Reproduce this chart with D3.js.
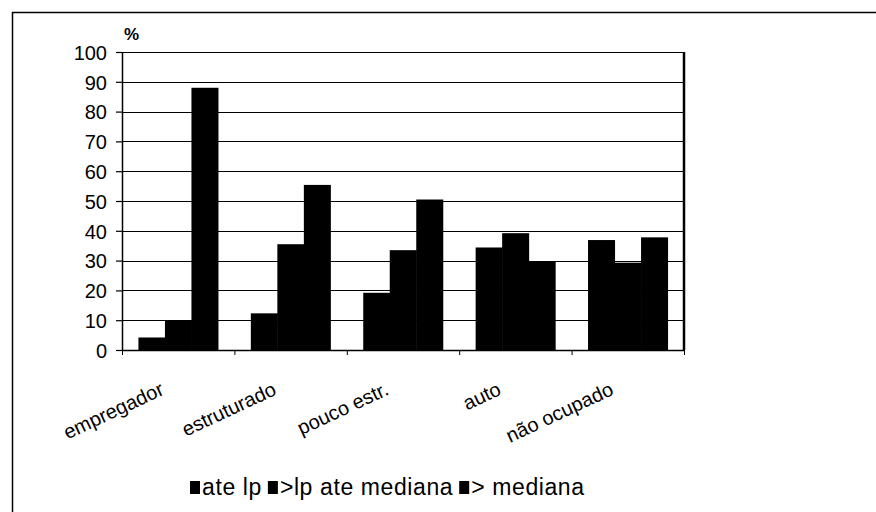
<!DOCTYPE html>
<html>
<head>
<meta charset="utf-8">
<script src="https://cdn.jsdelivr.net/npm/d3@7"></script>
<style>
  body { margin: 0; background: #fff; }
  text { font-family: "Liberation Sans", Arial, sans-serif; fill: #000; }
</style>
</head>
<body>
<div class="chart"></div>
<script>
// bar chart: share of each income group per occupation type
var categories = ["empregador", "estruturado", "pouco estr.", "auto", "não ocupado"];
var seriesNames = ["ate lp", ">lp ate mediana", "> mediana"];
var ateLp = [4.2, 12.3, 19.2, 34.4, 36.9];
var lpAteMediana = [9.8, 35.5, 33.5, 39.2, 29.3];
var acimaMediana = [88, 55.4, 50.5, 29.6, 37.8];
var yTicks = [0, 10, 20, 30, 40, 50, 60, 70, 80, 90, 100];

var svgWidth = 876;
var svgHeight = 512;
var margin = { top: 52, left: 122 };
var width = 562;
var height = 298;

var seriesValues = [ateLp, lpAteMediana, acimaMediana];
var rows = categories.map(function(c, i) {
    return {
        cat: c,
        values: seriesNames.map(function(s, j) { return { name: s, value: seriesValues[j][i] }; })
    };
});

var root = d3.select(".chart")
    .append("svg")
    .attr("width", svgWidth)
    .attr("height", svgHeight);

// outer frame (runs off the right and bottom edge)
root.append("rect")
    .attr("x", 12.5).attr("y", 12.5)
    .attr("width", 1000).attr("height", 1000)
    .attr("fill", "none")
    .attr("stroke", "#000")
    .attr("stroke-width", 1.5);

var chart = root.append("g")
    .attr("transform", "translate(" + margin.left + "," + margin.top + ")");

var x0 = d3.scaleBand().domain(categories).range([0, width]).padding(0);
var x1 = d3.scaleBand().domain(seriesNames).range([0, x0.bandwidth()])
    .paddingInner(0).paddingOuter(0.62);
var y = d3.scaleLinear().domain([0, 100]).range([height, 0]);

// gridlines
chart.append("g")
    .selectAll("line")
    .data(yTicks)
    .enter()
    .append("line")
    .attr("x1", 0).attr("x2", width)
    .attr("y1", function(d) { return Math.round(y(d)) + 0.5; })
    .attr("y2", function(d) { return Math.round(y(d)) + 0.5; })
    .attr("stroke", "#000")
    .attr("stroke-width", 1.2);

// bars
chart.selectAll(".cat")
    .data(rows)
    .enter()
    .append("g")
    .attr("class", "cat")
    .attr("transform", function(d) { return "translate(" + x0(d.cat) + ",0)"; })
    .selectAll("rect")
    .data(function(d) { return d.values; })
    .enter()
    .append("rect")
    .attr("x", function(d) { return x1(d.name); })
    .attr("width", x1.bandwidth() + 0.5)
    .attr("y", function(d) { return y(d.value); })
    .attr("height", function(d) { return height - y(d.value); })
    .attr("fill", "#000");

// plot border: left, right
chart.append("line")
    .attr("x1", 0.5).attr("x2", 0.5).attr("y1", 0).attr("y2", height)
    .attr("stroke", "#000").attr("stroke-width", 1.5);
chart.append("line")
    .attr("x1", width).attr("x2", width).attr("y1", 0).attr("y2", height)
    .attr("stroke", "#000").attr("stroke-width", 2.5);

// y axis
var leftAxis = d3.axisLeft(y).tickValues(yTicks).tickSize(6).tickPadding(9);
var yAxis = chart.append("g").call(leftAxis);
yAxis.select(".domain").remove();
yAxis.selectAll("line").attr("stroke", "#000").attr("stroke-width", 1.2);
yAxis.selectAll("text")
    .style("font-size", "20px")
    .style("font-family", "'Liberation Sans', Arial, sans-serif")
    .attr("dy", "0.36em");

// x axis ticks at band edges
var edges = categories.map(function(c) { return x0(c); }).concat([width]);
chart.append("line")
    .attr("x1", 0).attr("x2", width)
    .attr("y1", height + 0.5).attr("y2", height + 0.5)
    .attr("stroke", "#000").attr("stroke-width", 1.5);
chart.append("g")
    .selectAll("line")
    .data(edges)
    .enter()
    .append("line")
    .attr("x1", function(d) { return d + 0.5; })
    .attr("x2", function(d) { return d + 0.5; })
    .attr("y1", height).attr("y2", height + 5)
    .attr("stroke", "#000");

// rotated category labels
chart.append("g")
    .selectAll("text")
    .data(categories)
    .enter()
    .append("text")
    .attr("transform", function(d) {
        return "translate(" + (x0(d) + x0.bandwidth() / 2 - 13) + "," + (height + 44) + ") rotate(-25)";
    })
    .attr("text-anchor", "end")
    .style("font-size", "20px")
    .text(function(d) { return d; });

// unit label
root.append("text")
    .attr("x", 124).attr("y", 40)
    .style("font-size", "17px")
    .style("font-weight", "bold")
    .text("%");

// legend
var legend = root.append("g").attr("transform", "translate(190,0)");
var lx = 0;
seriesNames.forEach(function(name) {
    legend.append("rect")
        .attr("x", lx).attr("y", 481)
        .attr("width", 10).attr("height", 13)
        .attr("fill", "#000");
    var t = legend.append("text")
        .attr("x", lx + 12).attr("y", 495)
        .style("font-size", "23px")
        .style("letter-spacing", "0.6px")
        .text(name);
    lx += 12 + t.node().getComputedTextLength() + 6;
});
</script>
</body>
</html>
